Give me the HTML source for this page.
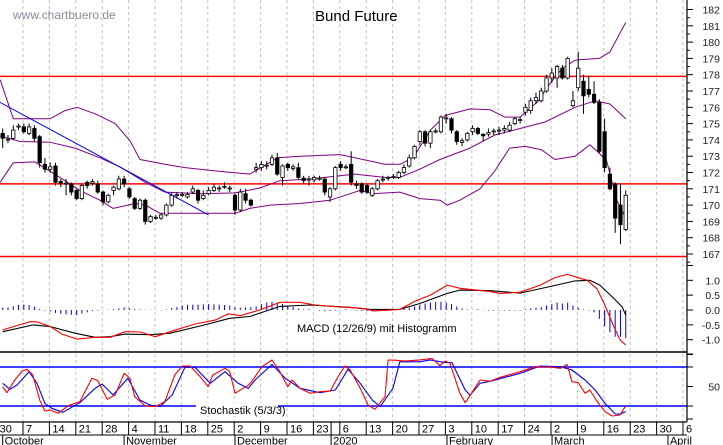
<!DOCTYPE html>
<html><head><meta charset="utf-8"><title>Bund Future</title>
<style>
html,body{margin:0;padding:0;background:#fff;}
svg{display:block;font-family:"Liberation Sans",sans-serif;}
</style></head>
<body>
<svg id="chart" width="723" height="445" viewBox="0 0 723 445" xmlns="http://www.w3.org/2000/svg">
<rect x="0" y="0" width="723" height="445" fill="#fff"/>
<g id="grid"></g>
<g id="price"></g>
<g id="macd"></g>
<g id="stoch"></g>
<g id="axes"></g>
<text x="13" y="19" font-size="12" fill="#8a8c9c">www.chartbuero.de</text>
<text x="315" y="21" font-size="15" fill="#000">Bund Future</text>
</svg>
<script>
// ---- data ----
const opens=[174.4,174.0,174.1,174.8,174.8,174.4,174.7,174.2,172.5,172.2,172.4,171.45,171.3,171.3,170.9,170.4,171.4,171.35,171.3,170.8,170.2,170.9,171.0,171.6,171.0,170.4,169.8,170.3,169.0,169.2,169.2,169.4,170.0,170.6,170.6,170.5,170.8,170.9,170.4,170.7,170.9,171.0,171.1,171.0,170.6,169.7,170.7,170.3,172.2,172.3,172.4,172.5,172.9,171.7,172.5,172.25,172.3,171.65,171.55,171.55,171.6,171.6,170.5,171.0,172.5,172.3,172.5,171.3,171.3,171.2,170.6,171.0,171.55,171.65,171.7,171.7,172.0,172.4,172.9,173.9,174.5,173.8,174.5,174.5,175.3,175.3,174.5,173.85,174.0,174.5,174.7,174.35,174.35,174.5,174.55,174.6,174.6,175.0,175.2,175.7,175.8,176.4,176.4,177.0,177.8,177.8,178.4,177.8,176.1,177.2,177.6,177.1,176.8,176.3,174.5,171.9,171.3,170.0,168.5];
const closes=[174.1,174.05,174.6,174.85,174.5,174.8,174.1,172.6,172.2,172.35,171.4,171.35,171.35,170.8,170.4,171.2,171.2,171.45,170.8,170.2,170.6,171.1,171.6,171.3,170.5,169.8,170.3,169.0,169.3,169.25,169.4,170.0,170.6,170.65,170.65,170.65,171.0,170.3,170.6,170.9,171.1,171.05,171.15,171.05,169.7,170.8,170.3,170.0,172.3,172.5,172.45,172.9,171.9,172.4,172.3,172.35,171.7,171.5,171.6,171.7,171.65,170.8,171.0,172.3,172.3,172.35,171.4,171.2,170.8,170.8,171.0,171.5,171.6,171.7,171.75,172.0,172.3,172.9,173.6,174.5,173.8,174.5,174.55,175.4,175.35,174.6,173.9,173.95,174.4,174.7,174.4,174.25,174.45,174.55,174.6,174.7,174.9,175.3,175.25,176.0,176.4,176.6,177.0,177.8,178.1,178.5,177.8,179.0,176.4,178.4,176.7,176.8,176.3,173.3,172.3,171.0,169.2,168.8,170.6];
const highs=[174.7,174.3,174.9,175.0,175.0,175.0,174.9,174.3,172.9,172.6,172.6,171.6,171.6,171.4,171.0,171.3,171.5,171.6,171.5,170.9,170.7,171.2,171.8,171.8,171.1,170.5,170.4,170.4,169.4,169.4,169.5,170.1,170.8,170.8,170.8,170.8,171.2,171.0,170.9,171.1,171.3,171.2,171.4,171.2,170.7,171.0,171.0,170.4,172.6,172.7,172.7,173.1,173.2,172.5,172.6,172.5,172.6,171.8,171.8,171.8,171.8,171.7,171.1,172.4,172.7,172.5,173.3,171.5,171.4,171.3,171.1,171.6,171.8,171.8,171.9,172.1,172.5,173.1,173.7,174.6,174.6,174.6,174.7,175.5,175.6,175.4,174.6,174.1,174.5,174.9,174.8,174.4,174.7,174.7,174.8,174.9,175.1,175.4,175.4,176.2,176.6,176.9,177.2,178.0,178.4,178.6,178.6,179.1,177.0,179.4,178.0,177.9,177.6,176.5,175.3,172.3,171.4,171.3,170.9];
const lows=[173.5,173.8,174.0,174.6,174.4,174.3,173.9,172.3,172.0,172.0,171.2,171.1,170.6,170.6,170.3,170.3,171.0,171.2,170.7,170.0,170.1,170.6,170.9,171.1,170.4,169.7,169.7,168.8,168.9,169.1,169.1,169.3,169.9,170.4,170.5,170.4,170.7,170.1,170.3,170.6,170.8,170.8,171.0,170.8,169.4,169.6,170.1,169.9,172.0,172.1,172.2,172.4,171.8,171.2,172.1,172.1,171.6,171.3,171.2,171.4,171.5,170.6,170.2,170.9,172.1,172.2,171.2,171.0,170.7,170.7,170.5,170.9,171.4,171.5,171.6,171.6,171.9,172.3,172.8,173.7,173.6,173.5,174.4,174.4,175.0,174.4,173.7,173.6,173.9,174.3,174.3,173.9,174.2,174.3,174.3,174.4,174.5,174.9,175.0,175.5,175.6,176.2,176.3,176.9,177.5,177.2,177.7,177.7,176.0,177.0,175.6,176.6,176.2,173.2,172.0,170.9,168.3,167.6,168.4];
const upperIdx=[-0.5,2,5.2,9,11.8,14.1,17.5,21.3,24.1,26,30.7,34.5,40.2,46.8,52.1,56.3,63.9,66.7,72.4,75.2,77.7,81,83.8,88.5,92.3,95.1,98,101.5,103.5,106,108.5,113,115,116.5,118];
const upperVal=[177.7,175.3,175.3,175.3,175.8,176.0,175.6,175.0,173.95,172.8,172.5,172.3,172.1,171.9,172.9,173.0,173.1,172.9,172.5,172.5,172.9,174.6,175.5,175.9,175.85,175.4,175.4,176.4,177.4,178.4,178.9,179.0,179.4,180.3,181.2];
const midIdx=[-0.5,3.3,9,13.7,18.4,22.2,27,30.7,37.4,44,48.7,52.5,58.2,66.7,72.4,75.2,79,82.8,88.5,93.2,98,102.7,108.4,112.2,115,118];
const midVal=[174.25,173.9,173.85,173.5,172.9,172.35,171.4,170.8,170.7,170.75,171.05,171.5,171.6,171.9,171.7,171.7,172.2,172.8,173.5,174.3,174.7,175.1,176.0,176.4,176.2,175.3];
const lowerIdx=[-0.5,2,6.1,11.8,14.6,18.4,20.9,25.1,27,29.8,37.4,44,46.8,50.6,56.3,62,65.8,67.7,70,75.2,79,82.8,84.2,86.6,90.4,93.2,96,99,102,104.6,108.4,111.2,112.9,114.4,116.3,118];
const lowerVal=[171.4,172.6,172.65,171.5,170.9,170.3,169.8,170.1,170.0,169.5,169.5,169.5,169.8,170.0,170.1,170.3,170.7,170.9,170.7,170.8,170.4,170.3,170.0,170.3,171.0,172.1,173.5,173.6,173.4,172.8,173.0,173.7,173.2,172.7,170.3,169.2];
const resistanceLevels=[177.9,171.3,166.85];
const trendIdx=[-0.5,39];
const trendVal=[176.3,169.4];
const macdIdx=[0,2,5.2,6.5,9,11.2,14.1,17.5,20.3,23.2,26,28.9,31.7,36.4,40.2,42.7,45,48.7,52.5,56.3,59.2,63,67.7,70.5,75.2,78.1,81,84.2,86.6,92.3,94.2,98,101.8,104.6,106.9,109.3,110.7,112.6,113.9,115.6,116.9,118];
const macdVal=[-0.67,-0.56,-0.39,-0.4,-0.56,-0.81,-0.98,-0.92,-0.92,-0.73,-0.74,-0.9,-0.73,-0.47,-0.34,-0.13,-0.19,0,0.26,0.26,0.17,0.11,0.06,-0.03,0.02,0.3,0.5,0.84,0.73,0.62,0.56,0.6,0.84,1.09,1.2,1.07,1.0,0.7,0.22,-0.5,-1.0,-1.18];
const signalIdx=[0,5.8,9,13.7,17.5,20.3,23.2,27.9,31.7,37.4,43,46.8,52.5,58.2,65.8,69.6,75.2,79,84.2,86.6,92.3,98,103.7,108.4,111.2,113.1,115.4,117.3,118];
const signalVal=[-0.73,-0.5,-0.56,-0.78,-0.92,-0.9,-0.81,-0.83,-0.78,-0.54,-0.28,-0.22,0.12,0.17,0.09,0.02,0.02,0.22,0.56,0.67,0.65,0.57,0.79,0.98,1.0,0.84,0.45,0.11,-0.17];
const histVal=[0.08,0.09,0.13,0.17,0.19,0.17,0.11,0.03,-0.02,-0.05,-0.1,-0.13,-0.15,-0.16,-0.17,-0.12,-0.08,-0.03,-0.02,-0.01,0.01,0.03,0.05,0.09,0.06,0.03,0.02,0.01,0.01,-0.01,-0.01,0.02,0.06,0.1,0.15,0.17,0.18,0.18,0.19,0.2,0.19,0.18,0.17,0.15,0.09,0.08,0.09,
0.1,0.12,0.2,0.25,0.28,0.25,0.2,0.15,0.1,0.05,0.02,0.0,-0.01,-0.02,-0.04,-0.03,-0.02,-0.01,0.0,0.01,-0.02,-0.03,-0.04,-0.05,-0.02,0.0,0.01,0.02,0.03,0.05,0.08,0.12,0.18,0.22,0.25,0.27,0.28,0.25,0.2,0.12,0.05,0.02,0.01,0.0,-0.01,
-0.02,-0.02,-0.02,-0.02,-0.02,-0.02,-0.02,0,0.05,0.08,0.1,0.15,0.2,0.25,0.22,0.25,0.15,0.08,0.02,-0.02,-0.08,-0.3,-0.55,-0.75,-0.9,-0.9,-0.95];
const kIdx=[0,0.8,2.3,3.7,4.6,5.7,7,8,9,10.5,12.4,14.6,16.9,18,19.8,21.3,23,24.1,25,27,28.9,30.7,32.6,34,35.5,37.4,38.9,39.8,42.1,43,44,46.5,47.3,49.1,51,52.5,54,54.8,56.3,58.2,60.1,62,63.5,64.8,65.8,67.7,69.2,70.5,72.4,73,74.3,76.2,79,81.3,82.8,83.8,84.7,86.6,87.6,88.5,90.4,92.3,94.2,98,100.8,103.7,105.6,106.9,107.8,109,110.3,111.2,112.6,114.1,115.4,116.9,117.9];
const kVal=[49.7,40.5,60,73.8,76.4,67.7,29,12.3,13.8,8.7,20.5,26.7,62.6,59,30.3,37,70.3,62.6,34.3,20,19,26.7,67.7,81.5,81.5,65,49.7,67.7,78,73,39.5,52,59,80.5,90.8,72.8,49.7,60,47.2,39.5,42,43,65,81.5,75.4,47.2,21.5,14.9,34.3,90.8,90.5,89,91,93.3,82,89,85.7,39.5,25.1,36,60,58,64.1,72.8,80.5,80,78,84,57.4,56,39.5,44.6,26.7,11.3,4.6,6.2,19];
const dIdx=[0,1.4,2.7,5,6.5,8,9.3,11.4,14.6,17.5,18.8,20.9,23.7,26,27.9,29.8,32.1,34.5,36.4,39.3,42.1,44.6,46.5,47.8,51,53.5,56.3,60.1,63,65.4,67.7,70,71.5,73.9,75.2,79,80.9,83.8,85.1,87.6,88.5,90.4,92.3,98,101.8,105.6,107.8,110.3,112.2,114.1,116,116.9,118];
const dVal=[55,45.7,52.3,72.8,55,24,16.4,10.3,25.1,47.2,53.8,37,62.6,29,21.5,19,37,79.5,79.5,55,72.8,55,47,60,84,62.6,47.2,40.5,44.6,76.4,55,29,19,47.2,88,88,91,86.7,86.7,44.6,36.5,55,58,70.3,81.5,80.5,75.4,60,44.6,24,7.7,7.7,11.3];
const dateLabels=["30","7","14","21","28","4","11","18","25","2","9","16","23","6","13","20","27","3","10","17","24","2","9","16","23","30","6"];
const monthLabels=["October","November","December","2020","February","March","April"];
const monthWeekPos=[-0.77,3.83,8.03,11.67,16.06,20.04,24.43];
const priceTicks=[182,181,180,179,178,177,176,175,174,173,172,171,170,169,168,167];
const macdTicks=["1.0","0.5","0.0","-0.5","-1.0"];
const stochTicks=[50];

// ---- scales ----
const NS="http://www.w3.org/2000/svg";
const AX=687;
const xC=i=>2.7+i*5.28;
const xW=k=>23+k*26.4;
const yP=p=>9.5+(182-p)*16.3;
const yM=v=>310-v*29.7;
const yS=v=>419-v*0.65;
function mk(tag,attrs,parent){const e=document.createElementNS(NS,tag);for(const k in attrs)e.setAttribute(k,attrs[k]);parent.appendChild(e);return e;}
const G=id=>document.getElementById(id);

// grid
for(let k=0;k<=25;k++){
  const l=mk('line',{x1:xW(k),x2:xW(k),y1:0,y2:422,stroke:'#c0c0c0','stroke-width':1,'stroke-dasharray':'3,3'},G('grid'));
  
  
}
function poly(idx,val,ys,color,parent,name,w){
  const pts=idx.map((d,j)=>xC(d).toFixed(1)+','+ys(val[j]).toFixed(1)).join(' ');
  const p=mk('polyline',{points:pts,fill:'none',stroke:color,'stroke-width':w||1,'stroke-linejoin':'round'},parent);
  
  
}
// price
const P=G('price');
resistanceLevels.forEach(v=>{
  const l=mk('line',{x1:0,x2:AX,y1:yP(v),y2:yP(v),stroke:'#ff0000','stroke-width':1.5},P);
  
  
});
poly(upperIdx,upperVal,yP,'#800080',P,'bollinger-upper',1);
poly(midIdx,midVal,yP,'#800080',P,'bollinger-middle',1);
poly(lowerIdx,lowerVal,yP,'#800080',P,'bollinger-lower',1);
poly(trendIdx,trendVal,yP,'#0000ff',P,'trend-line',1);
for(let i=0;i<opens.length;i++){
  const x=xC(i),o=opens[i],c=closes[i];
  const w=mk('line',{x1:x,x2:x,y1:yP(highs[i]),y2:yP(lows[i]),stroke:'#000','stroke-width':1},P);
  
  
  const top=yP(Math.max(o,c)),bot=yP(Math.min(o,c));
  const r=mk('rect',{x:x-1.7,y:top,width:3.4,height:Math.max(1,bot-top),fill:c<o?'#000':'#fff',stroke:'#000','stroke-width':0.8},P);
  
  
}
// macd
const M=G('macd');
histVal.forEach((v,i)=>{
  const l=mk('line',{x1:xC(i),x2:xC(i),y1:yM(0),y2:yM(v)+(v===0?-0.8:0),stroke:'#0000ff','stroke-width':1},M);
  
  
});
poly(signalIdx,signalVal,yM,'#000',M,'macd-signal-line',1.1);
poly(macdIdx,macdVal,yM,'#ff0000',M,'macd-line',1.1);
const mt=mk('text',{x:297,y:332,'font-size':11,fill:'#000'},M);mt.textContent='MACD (12/26/9) mit Histogramm';


const sep=mk('line',{x1:0,x2:AX,y1:352,y2:352,stroke:'#000','stroke-width':1.5},M);


// stoch
const S=G('stoch');
[80,20].forEach(v=>{
  const l=mk('line',{x1:0,x2:AX,y1:yS(v),y2:yS(v),stroke:'#0000ff','stroke-width':1.5},S);
  
  
});
const sb=mk('rect',{x:196,y:403,width:82,height:13,fill:'#fff'},S);


const st=mk('text',{x:200,y:414,'font-size':11,fill:'#000'},S);st.textContent='Stochastik (5/3/3)';


poly(dIdx,dVal,yS,'#0000ff',S,'stochastic-d-line',1.1);
poly(kIdx,kVal,yS,'#ff0000',S,'stochastic-k-line',1.1);
// axes
const A=G('axes');
mk('line',{x1:AX,x2:AX,y1:0,y2:422,stroke:'#000','stroke-width':1.2},A);
mk('line',{x1:0,x2:AX,y1:422,y2:422,stroke:'#000','stroke-width':1.2},A);
mk('line',{x1:0,x2:AX,y1:435,y2:435,stroke:'#000','stroke-width':1},A);
priceTicks.forEach(v=>{
  mk('line',{x1:AX,x2:AX+6,y1:yP(v),y2:yP(v),stroke:'#000'},A);
  mk('line',{x1:AX,x2:AX+3,y1:yP(v-0.5),y2:yP(v-0.5),stroke:'#000'},A);
  const t=mk('text',{x:720,y:yP(v)+4,'font-size':10.5,fill:'#222','text-anchor':'end'},A);t.textContent=String(v);
  
  
});
macdTicks.forEach(s=>{
  const v=parseFloat(s);
  mk('line',{x1:AX,x2:AX+6,y1:yM(v),y2:yM(v),stroke:'#000'},A);
  const t=mk('text',{x:720,y:yM(v)+4,'font-size':10.5,fill:'#222','text-anchor':'end'},A);t.textContent=s;
  
  
});
[1.5,-1.5].forEach(v=>mk('line',{x1:AX,x2:AX+6,y1:yM(v),y2:yM(v),stroke:'#000'},A));
[0,20,50,80,100].forEach(v=>mk('line',{x1:AX,x2:AX+6,y1:yS(v),y2:yS(v),stroke:'#000'},A));
stochTicks.forEach(v=>{
  const t=mk('text',{x:720,y:yS(v)+4,'font-size':10.5,fill:'#222','text-anchor':'end'},A);t.textContent=String(v);
  
  
});
dateLabels.forEach((s,j)=>{
  const k=j-1,x=xW(k);
  mk('line',{x1:x,x2:x,y1:422,y2:435,stroke:'#000'},A);
  const t=mk('text',{x:x+3,y:432.5,'font-size':11,fill:'#000'},A);t.textContent=s;
  
  
});
monthLabels.forEach((s,j)=>{
  const x=xW(monthWeekPos[j]);
  mk('line',{x1:x,x2:x,y1:(s==='2020'?422:435),y2:445,stroke:'#000'},A);
  const t=mk('text',{x:x+2,y:444.5,'font-size':11,fill:'#000'},A);t.textContent=s;
  
  
});
</script>
</body></html>
